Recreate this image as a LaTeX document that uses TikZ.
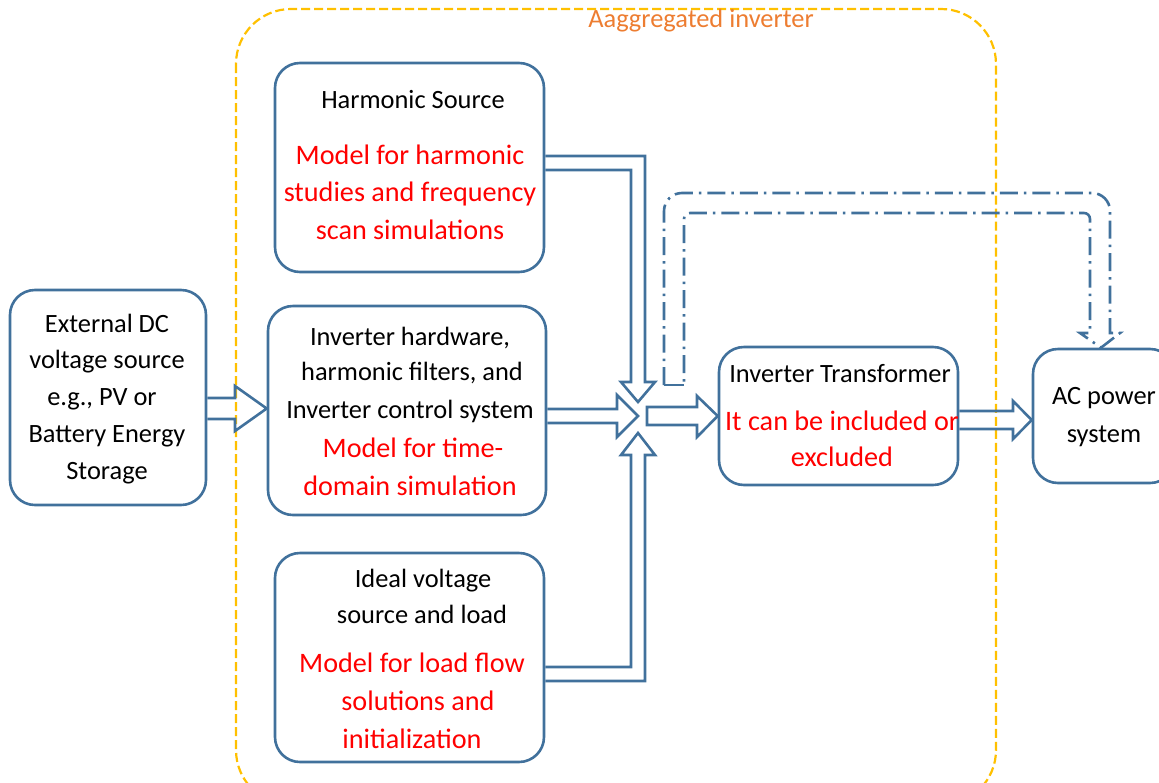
\documentclass[tikz,border=0pt]{standalone}
\usepackage{fontspec}
\setmainfont{Carlito}
\usetikzlibrary{calc}
\definecolor{boxblue}{HTML}{41719C}
\definecolor{txtred}{HTML}{FF0000}
\definecolor{lblorange}{HTML}{ED7D31}
\definecolor{gold}{HTML}{FFC000}
\tikzset{
  box/.style={draw=boxblue, line width=2.6pt, rounded corners=25pt, rectangle, inner sep=0pt},
  txt/.style={anchor=base, inner sep=0pt, font=\fontsize{26.4}{32}\selectfont},
  rtxt/.style={anchor=base, inner sep=0pt, font=\fontsize{28.2}{34}\selectfont, text=txtred},
  blockarrow/.style={draw=boxblue, line width=2.6pt, line join=miter},
  dashdotarrow/.style={draw=boxblue, line width=2.6pt, dash pattern=on 18pt off 6pt on 2.5pt off 6pt},
  aggbox/.style={draw=gold, line width=2.2pt, dash pattern=on 9pt off 4pt, rounded corners=55pt},
}
\begin{document}
\begin{tikzpicture}[x=1pt,y=-1pt]
\useasboundingbox (0,0) rectangle (1159,782);
\clip (0,0) rectangle (1159,782);
% aggregated inverter boundary
\draw[aggbox] (236,9) rectangle (996,805);
\node[txt, text=lblorange] (agg) at (701,27) {Aaggregated inverter};

% boxes
\node[box, minimum width=196pt, minimum height=215pt] (ext) at (108,397.5) {};
\node[box, minimum width=269pt, minimum height=209pt] (harm) at (409.5,167.5) {};
\node[box, minimum width=278pt, minimum height=209pt] (inv) at (407,410.5) {};
\node[box, minimum width=269pt, minimum height=209pt] (ideal) at (409.5,657.5) {};
\node[box, minimum width=239pt, minimum height=138pt] (xfmr) at (838.5,416) {};
\node[box, minimum width=142pt, minimum height=134pt] (ac) at (1104,416) {};

% texts
\node[txt] (e1) at (107,332) {External DC};
\node[txt] (e2) at (107,368) {voltage source};
\node[txt] (e3) at (102,405) {e.g., PV or};
\node[txt] (e4) at (107,442) {Battery Energy};
\node[txt] (e5) at (107,479) {Storage};

\node[txt] (h1) at (413,108) {Harmonic Source};
\node[rtxt] (h2) at (410,164) {Model for harmonic};
\node[rtxt] (h3) at (410,201) {studies and frequency};
\node[rtxt] (h4) at (410,239) {scan simulations};

\node[txt] (i1) at (410,345) {Inverter hardware,};
\node[txt] (i2) at (412,380) {harmonic filters, and};
\node[txt] (i3) at (410,418) {Inverter control system};
\node[rtxt] (i4) at (413,457) {Model for time-};
\node[rtxt] (i5) at (410,495) {domain simulation};

\node[txt] (d1) at (423,587) {Ideal voltage};
\node[txt] (d2) at (422,623) {source and load};
\node[rtxt] (d3) at (412,672) {Model for load flow};
\node[rtxt] (d4) at (418,710) {solutions and};
\node[rtxt] (d5) at (412,748) {initialization};

\node[txt] (x1) at (840,382) {Inverter Transformer};
\node[rtxt] (x2) at (842,430) {It can be included or};
\node[rtxt] (x3) at (842,466) {excluded};

\node[txt] (a1) at (1104,404) {AC power};
\node[txt] (a2) at (1104,442) {system};

% block arrow: external source -> inverter hardware
\draw[blockarrow] (ext.east |- 0,398) -- (235,398) -- (235,386) -- (inv.west |- 0,408.5)
   -- (235,431) -- (235,419) -- (ext.east |- 0,419);
% harmonic source -> junction
\draw[blockarrow] (harm.east |- 0,156) -- (645,156) -- (645,382) -- (655,382) -- (638,402)
   -- (621,382) -- (631,382) -- (631,170) -- (harm.east |- 0,170);
% inverter hardware -> junction
\draw[blockarrow] (inv.east |- 0,409) -- (617,409) -- (617,395) -- (638,416)
   -- (617,437) -- (617,423) -- (inv.east |- 0,423);
% ideal source -> junction
\draw[blockarrow] (ideal.east |- 0,667) -- (631,667) -- (631,455) -- (621,455) -- (638,433)
   -- (655,455) -- (645,455) -- (645,681) -- (ideal.east |- 0,681);
% junction -> transformer
\draw[blockarrow] (647,407) -- (697,407) -- (697,396) -- (xfmr.west) -- (697,437)
   -- (697,425) -- (647,425) -- cycle;
% transformer -> AC power system
\draw[blockarrow] (xfmr.east |- 0,411) -- (1013,411) -- (1013,401) -- (ac.west |- 0,420)
   -- (1013,439) -- (1013,429) -- (xfmr.east |- 0,429);
% dash-dot bypass arrow
\coordinate (bpstart) at (684,385);
\draw[boxblue, line width=2.6pt] (bpstart) -- (664,385);
\draw[dashdotarrow] (664,385) [rounded corners=18pt] -- (664,193) -- (1110,193) [sharp corners] -- (1110,333)
   -- (1120,333) -- (ac.north -| 1101,0) -- (1080,333) -- (1090,333)
   [rounded corners=6pt] -- (1090,213) -- (684,213) [sharp corners] -- (bpstart);
\end{tikzpicture}
\end{document}
